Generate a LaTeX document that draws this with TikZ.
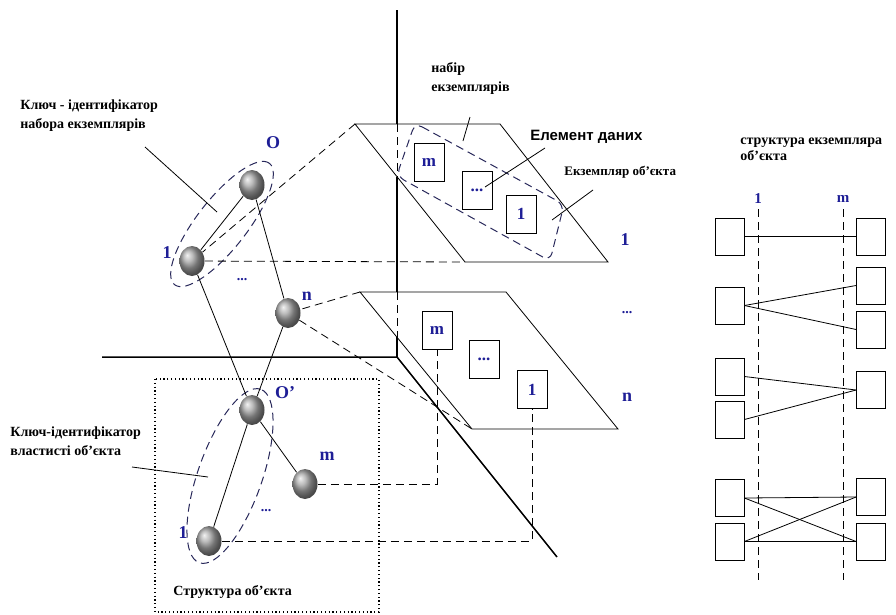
\documentclass[tikz,border=0pt]{standalone}
\usepackage{fontspec}
\setmainfont{Liberation Serif}
\newfontfamily\arialfont{Liberation Sans}
\usetikzlibrary{shapes.geometric}
\definecolor{keyblue}{RGB}{30,30,150}
\definecolor{ovalblue}{RGB}{40,40,90}

\begin{document}
\begin{tikzpicture}[x=1pt, y=-1pt, line width=0.8pt,
  ball/.style = {ellipse, minimum width=25pt, minimum height=30pt, inner sep=0pt, shading=ball, ball color=gray!70},
  cell/.style = {draw, minimum width=30pt, minimum height=38pt, inner sep=0pt, text=keyblue, font=\bfseries\fontsize{17}{17}\selectfont},
  slot/.style = {draw, minimum width=29pt, minimum height=37pt, inner sep=0pt},
  key/.style = {text=keyblue, inner sep=0pt, font=\bfseries\fontsize{18}{18}\selectfont},
  note/.style = {anchor=west, align=left, inner sep=0pt, font=\bfseries\fontsize{14}{19}\selectfont},
  hidden/.style = {dash pattern=on 8pt off 5pt},
  oval/.style = {draw=ovalblue, line width=1pt, dash pattern=on 8pt off 5pt, ellipse, inner sep=0pt},
  axis/.style = {line width=1.5pt}]
\useasboundingbox (0,0) rectangle (896,614);

\coordinate (top) at (397,10);
\coordinate (org) at (397,357);
\coordinate (left) at (102,357);
\coordinate (far) at (557,557);
\coordinate (u1) at (355,124);
\coordinate (u2) at (500,124);
\coordinate (u3) at (608,262);
\coordinate (u4) at (465,262);
\coordinate (l1) at (360,292);
\coordinate (l2) at (506,292);
\coordinate (l3) at (618,429);
\coordinate (l4) at (472,429);
\coordinate (ux) at (397,124);
\coordinate (uy) at (397,176.7);
\coordinate (lx) at (397,292);
\coordinate (ly) at (397,337.3);

\draw[axis] (top) -- (ux);
\draw[hidden] (ux) -- (uy);
\draw[axis] (uy) -- (lx);
\draw[hidden] (lx) -- (ly);
\draw[axis] (ly) -- (org);
\draw[axis] (left) -- (org) -- (far);

\draw (u1) -- (u2) -- (u3) -- (u4) -- cycle;
\draw (l1) -- (l2) -- (l3) -- (l4) -- cycle;
\draw[draw=ovalblue, line width=1pt, hidden, rounded corners=8pt] (415,123) -- (564,204.5) -- (550,261) -- (396.6,176) -- cycle;
\draw[line width=1.2pt, dash pattern=on 1.2pt off 2.6pt] (155,379) rectangle (379,612);

\node[ball] (o) at (252,185) {};
\node[ball] (o1) at (192,261) {};
\node[ball] (on) at (288,313) {};
\node[ball] (p) at (252,410) {};
\node[ball] (pm) at (305,484) {};
\node[ball] (p1) at (209,541) {};

\node[oval, minimum width=154pt, minimum height=50pt, rotate=52] (k1) at (222,224) {};
\node[oval, minimum width=184pt, minimum height=64pt, rotate=70.5] (k2) at (230,476) {};

\node[cell] (um) at (429,162) {m};
\node[cell] (ud) at (477,190) {...};
\node[cell] (u1b) at (521,214) {1};
\node[cell] (lm) at (437,330) {m};
\node[cell] (ld) at (484,359.5) {...};
\node[cell] (l1b) at (532,389.5) {1};

\coordinate (cm) at (437,484);
\coordinate (c1) at (532,541);

\draw (o) -- (o1);
\draw (o) -- (on);
\draw (o1) -- (p);
\draw (on) -- (p);
\draw (p) -- (p1);
\draw (p) -- (pm);
\draw[hidden] (u1) -- (o1) -- (u4);
\draw[hidden] (l1) -- (on) -- (l4);
\draw[hidden] (pm) -- (cm) -- (lm);
\draw[hidden] (p1) -- (c1) -- (l1b);

\node[key] at (273,143) {O};
\node[key] at (167,253) {1};
\node[key, font=\bfseries\fontsize{14}{14}\selectfont] at (242,280) {...};
\node[key] at (307,296) {n};
\node[key] at (285,393) {O'};
\node[key] at (327,456) {m};
\node[key] at (183,533) {1};
\node[key, font=\bfseries\fontsize{14}{14}\selectfont] at (266,511) {...};
\node[key] at (625,240) {1};
\node[key, font=\bfseries\fontsize{14}{14}\selectfont] at (627,313) {...};
\node[key] at (627,397) {n};

\node[note] (t1) at (20,116) {Ключ - ідентифікатор\\набора екземплярів};
\node[note] (t2) at (431,78) {набір\\екземплярів};
\node[note, font=\arialfont\bfseries\fontsize{15}{15}\selectfont] (t3) at (530,137) {Елемент даних};
\node[note, font=\bfseries\fontsize{13}{13}\selectfont] (t4) at (564,172) {Екземпляр об'єкта};
\node[note] (t5) at (10,441) {Ключ-ідентифікатор\\властисті об'єкта};
\node[note] (t6) at (173,592) {Структура об'єкта};
\node[note, font=\bfseries\fontsize{14}{16}\selectfont] (t7) at (740,149) {структура екземпляра\\об'єкта};

\coordinate (h1) at (145,147);
\coordinate (g1) at (217,212);
\coordinate (h2) at (132,467);
\coordinate (g2) at (208,477);
\coordinate (h3) at (470,117);
\coordinate (g3) at (463,141);
\coordinate (h4) at (545,148);
\coordinate (g4) at (485,187);
\coordinate (h5) at (593,190);
\coordinate (g5) at (552,220);
\draw (h1) -- (g1);
\draw (h2) -- (g2);
\draw (h3) -- (g3);
\draw (h4) -- (g4);
\draw (h5) -- (g5);

\node[key, font=\bfseries\fontsize{15}{15}\selectfont] at (758,199) {1};
\node[key, font=\bfseries\fontsize{15}{15}\selectfont] at (843,199) {m};
\coordinate (d1) at (758,209);
\coordinate (e1) at (758,580);
\coordinate (d2) at (843,209);
\coordinate (e2) at (843,580);
\draw[hidden] (d1) -- (e1);
\draw[hidden] (d2) -- (e2);

\node[slot] (x1) at (729.5,236.5) {};
\node[slot] (y1) at (871,236.5) {};
\node[slot] (x2) at (729.5,305.5) {};
\node[slot] (y2) at (871,285.5) {};
\node[slot] (y3) at (871,329.5) {};
\node[slot] (x3) at (729.5,376.5) {};
\node[slot] (x4) at (729.5,419.5) {};
\node[slot] (y4) at (871,390) {};
\node[slot] (x5) at (729.5,498) {};
\node[slot] (x6) at (729.5,541.5) {};
\node[slot] (y5) at (871,497) {};
\node[slot] (y6) at (871,541.5) {};

\draw (x1.east) -- (y1.west);
\draw (x2.east) -- (y2.west);
\draw (x2.east) -- (y3.west);
\draw (x3.east) -- (y4.west);
\draw (x4.east) -- (y4.west);
\draw (x5.east) -- (y5.west);
\draw (x5.east) -- (y6.west);
\draw (x6.east) -- (y5.west);
\draw (x6.east) -- (y6.west);
\end{tikzpicture}
\end{document}
